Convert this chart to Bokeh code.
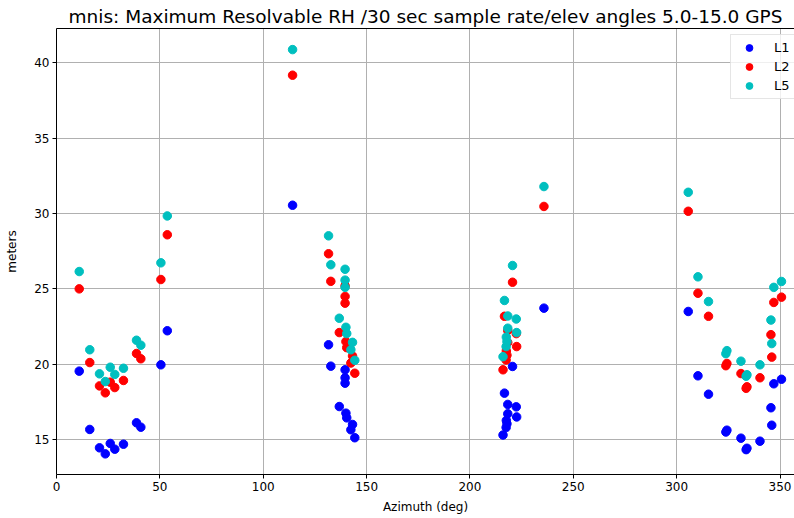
from bokeh.plotting import figure
from bokeh.models import FixedTicker, Range1d, LinearAxis
from bokeh.embed import file_html
from bokeh.resources import INLINE

# Azimuth (deg) per track
azimuth = [11.0, 16.1, 20.8, 23.6, 26.0, 28.2, 32.4, 38.7, 40.8, 50.5, 53.6,
           114.2,
           131.6, 132.7, 136.8, 139.6, 139.6, 139.6, 140.0, 140.4, 142.4, 143.2, 144.3,
           216.0, 216.7, 217.5, 217.6, 217.9, 218.3, 218.3, 220.6, 222.4, 222.6, 235.8,
           305.6, 310.3, 315.4, 323.8, 324.3, 331.1, 333.6, 334.0, 340.3, 345.6, 346.0, 347.0, 350.7]

# Maximum resolvable RH (meters)
L1 = [19.54, 15.67, 14.45, 14.05, 14.74, 14.36, 14.69, 16.11, 15.82, 19.96, 22.22,
      30.55,
      21.29, 19.87, 17.19, 19.63, 19.10, 18.74, 16.75, 16.44, 15.65, 16.00, 15.12,
      15.30, 18.08, 15.80, 16.27, 16.05, 17.33, 16.71, 19.85, 17.17, 16.50, 23.72,
      23.50, 19.23, 18.01, 15.50, 15.62, 15.09, 14.33, 14.42, 14.89, 17.11, 15.95, 18.70, 19.00]

L2 = [25.00, 20.11, 18.56, 18.10, 18.81, 18.45, 18.92, 20.71, 20.36, 25.62, 28.59,
      39.18,
      27.33, 25.50, 22.10, 25.20, 24.50, 24.05, 21.50, 21.10, 20.08, 20.55, 19.40,
      19.63, 23.18, 20.28, 20.88, 20.60, 22.24, 21.44, 25.44, 22.03, 21.17, 30.47,
      30.15, 24.71, 23.18, 19.90, 20.05, 19.38, 18.40, 18.50, 19.10, 21.96, 20.47, 24.10, 24.45]

L5 = [26.15, 20.96, 19.36, 18.85, 19.80, 19.32, 19.73, 21.59, 21.26, 26.73, 29.84,
      40.88,
      28.52, 26.60, 23.05, 26.30, 25.58, 25.10, 22.45, 22.03, 20.96, 21.45, 20.26,
      20.50, 24.23, 21.17, 21.80, 21.50, 23.20, 22.39, 26.55, 23.00, 22.10, 31.79,
      31.41, 25.80, 24.16, 20.70, 20.90, 20.20, 19.20, 19.30, 19.96, 22.93, 21.37, 25.10, 25.49]

x_ticks = [0, 50, 100, 150, 200, 250, 300, 350]
y_ticks = [15, 20, 25, 30, 35, 40]

FONT = "DejaVu Sans"

p = figure(width=794, height=518, output_backend="svg", toolbar_location=None,
           x_range=Range1d(0, 357), y_range=Range1d(12.68, 42.28),
           min_border_left=56, min_border_right=0, min_border_top=28, min_border_bottom=44,
           title="mnis: Maximum Resolvable RH /30 sec sample rate/elev angles 5.0-15.0 GPS")

p.title.align = "center"
p.title.text_font = FONT
p.title.text_font_size = "18.5px"
p.title.text_font_style = "normal"
p.title.text_color = "black"
p.title.standoff = 3
p.title.offset = 0

p.outline_line_color = None
p.background_fill_color = "white"
p.border_fill_color = "white"

for ax in (p.xaxis[0], p.yaxis[0]):
    ax.major_label_text_font = FONT
    ax.major_label_text_font_size = "12px"
    ax.major_label_text_color = "black"
    ax.axis_label_text_font = FONT
    ax.axis_label_text_font_size = "12px"
    ax.axis_label_text_font_style = "normal"
    ax.axis_label_text_color = "black"
    ax.axis_line_color = "black"
    ax.major_tick_line_color = "black"
    ax.major_tick_out = 4
    ax.major_tick_in = 0
    ax.minor_tick_line_color = None
    ax.major_label_standoff = 3

p.xaxis[0].ticker = FixedTicker(ticks=x_ticks)
p.yaxis[0].ticker = FixedTicker(ticks=y_ticks)
p.xaxis[0].axis_label = "Azimuth (deg)"
p.yaxis[0].axis_label = "meters"
p.xaxis[0].axis_label_standoff = 6
p.yaxis[0].axis_label_standoff = 12

top = LinearAxis(ticker=FixedTicker(ticks=[]), major_label_text_font_size="0px",
                 major_tick_out=0, minor_tick_out=0, major_label_standoff=0,
                 axis_line_color="black")
p.add_layout(top, "above")

p.xgrid.ticker = FixedTicker(ticks=x_ticks)
p.ygrid.ticker = FixedTicker(ticks=y_ticks)
p.grid.grid_line_color = "#b0b0b0"
p.grid.grid_line_width = 1

p.scatter(azimuth, L1, size=8.5, color="#0000ff", legend_label="L1")
p.scatter(azimuth, L2, size=8.5, color="#ff0000", legend_label="L2")
p.scatter(azimuth, L5, size=8.5, color="#00bfbf", legend_label="L5")

lg = p.legend[0]
lg.location = (674, 375)
lg.margin = 0
lg.padding = 4
lg.spacing = 2
lg.glyph_width = 28
lg.glyph_height = 17
lg.label_standoff = 11
lg.label_text_font = FONT
lg.label_text_font_size = "13px"
lg.label_text_color = "black"
lg.border_line_color = "#cccccc"
lg.background_fill_alpha = 0.8

open("out.html", "w").write(file_html(p, INLINE))
